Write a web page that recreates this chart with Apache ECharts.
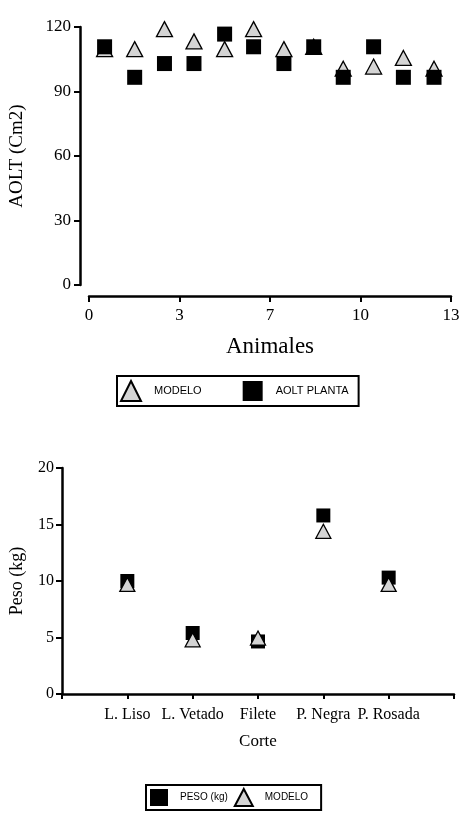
<!DOCTYPE html>
<html><head><meta charset="utf-8">
<script src="https://cdn.jsdelivr.net/npm/echarts@6/dist/echarts.min.js"></script>
<style>html,body{margin:0;padding:0;background:#fff}#c{width:473px;height:817px}</style>
</head><body><div id="c"></div>
<script>
// ---- data ----
const animalX    = [0.56, 1.64, 2.71, 3.77, 4.87, 5.91, 7.0, 8.07, 9.13, 10.22, 11.29, 12.39];
const modeloAOLT = [109.7, 109.7, 119, 113.3, 109.7, 119, 109.7, 110.8, 100.6, 101.6, 105.6, 100.6];
const aoltPlanta = [110.8, 96.6, 103, 103, 116.7, 110.8, 103, 110.8, 96.6, 110.8, 96.6, 96.6];
const cortes     = ['L. Liso', 'L. Vetado', 'Filete', 'P. Negra', 'P. Rosada'];
const cortePos   = [1, 2, 3, 4, 5];
const pesoKg     = [10.0, 5.4, 4.65, 15.8, 10.3];
const modeloPeso = [9.7, 4.8, 4.95, 14.4, 9.7];

const serif = 'Liberation Serif';
const sans = 'Liberation Sans';
const triStyle = { color: '#d4d4d4', borderColor: '#000', borderWidth: 1.3, opacity: 1 };
const sqStyle = { color: '#000', opacity: 1 };
const pairs = (xs, ys) => xs.map((x, i) => [x, ys[i]]);

const axisLine = { show: true, onZero: false, lineStyle: { color: '#000', width: 2.5 } };
const axisTick = (len) => ({ show: true, inside: false, length: len, lineStyle: { color: '#000', width: 2 } });

const chart = echarts.init(document.getElementById('c'), null, { renderer: 'canvas' });
chart.setOption({
  animation: false,
  backgroundColor: '#fff',
  grid: [
    { left: 86, right: 22, top: 27, height: 258 },
    { left: 58, right: 19, top: 468, height: 226 }
  ],
  xAxis: [
    {
      gridIndex: 0, type: 'value', min: 0, max: 13, interval: 3.25, offset: 11,
      axisLine, axisTick: axisTick(6), splitLine: { show: false },
      axisLabel: { margin: 11, color: '#000', fontFamily: serif, fontSize: 17, formatter: v => String(Math.round(v)) },
      name: 'Animales', nameLocation: 'middle', nameGap: 39,
      nameTextStyle: { color: '#000', fontFamily: serif, fontSize: 23 }
    },
    {
      gridIndex: 1, type: 'value', min: 0, max: 6, interval: 1,
      axisLine, axisTick: axisTick(5), splitLine: { show: false },
      axisLabel: { margin: 13, color: '#000', fontFamily: serif, fontSize: 16, formatter: v => cortes[cortePos.indexOf(v)] || '' },
      name: 'Corte', nameLocation: 'middle', nameGap: 39,
      nameTextStyle: { color: '#000', fontFamily: serif, fontSize: 17 }
    }
  ],
  yAxis: [
    {
      gridIndex: 0, type: 'value', min: 0, max: 120, interval: 30, offset: 9,
      axisLine, axisTick: axisTick(6), splitLine: { show: false },
      axisLabel: { margin: 9, color: '#000', fontFamily: serif, fontSize: 17 },
      name: 'AOLT (Cm2)', nameLocation: 'middle', nameGap: 53,
      nameTextStyle: { color: '#000', fontFamily: serif, fontSize: 19 }
    },
    {
      gridIndex: 1, type: 'value', min: 0, max: 20, interval: 5,
      axisLine, axisTick: axisTick(6), splitLine: { show: false },
      axisLabel: { margin: 8, color: '#000', fontFamily: serif, fontSize: 16 },
      name: 'Peso (kg)', nameLocation: 'middle', nameGap: 36,
      nameTextStyle: { color: '#000', fontFamily: serif, fontSize: 18 }
    }
  ],
  legend: [
    {
      data: ['MODELO', 'AOLT PLANTA'], left: 117, top: 376,
      orient: 'horizontal', itemWidth: 20, itemHeight: 20, itemGap: 41,
      padding: [4, 10, 4, 3], borderColor: '#000', borderWidth: 2,
      itemStyle: { opacity: 1 },
      textStyle: { color: '#000', fontFamily: sans, fontSize: 11, padding: [0, 0, 0, 8] },
      selectedMode: false
    },
    {
      data: ['PESO (kg)', 'MODELO'], left: 146, top: 785,
      orient: 'horizontal', itemWidth: 18, itemHeight: 17, itemGap: 6,
      padding: [3, 13, 3, 4], borderColor: '#000', borderWidth: 2,
      itemStyle: { opacity: 1 },
      textStyle: { color: '#000', fontFamily: sans, fontSize: 10, padding: [0, 0, 0, 7] },
      selectedMode: false
    }
  ],
  series: [
    { name: 'MODELO', type: 'scatter', xAxisIndex: 0, yAxisIndex: 0, symbol: 'triangle', symbolSize: [16, 15],
      itemStyle: triStyle, data: pairs(animalX, modeloAOLT) },
    { name: 'AOLT PLANTA', type: 'scatter', xAxisIndex: 0, yAxisIndex: 0, symbol: 'rect', symbolSize: 15,
      itemStyle: sqStyle, data: pairs(animalX, aoltPlanta) },
    { name: 'PESO (kg)', type: 'scatter', xAxisIndex: 1, yAxisIndex: 1, symbol: 'rect', symbolSize: 14,
      itemStyle: sqStyle, data: pairs(cortePos, pesoKg) },
    { name: 'MODELO', type: 'scatter', xAxisIndex: 1, yAxisIndex: 1, symbol: 'triangle', symbolSize: [15, 14],
      itemStyle: triStyle, data: pairs(cortePos, modeloPeso) }
  ]
});
</script>
</body></html>
